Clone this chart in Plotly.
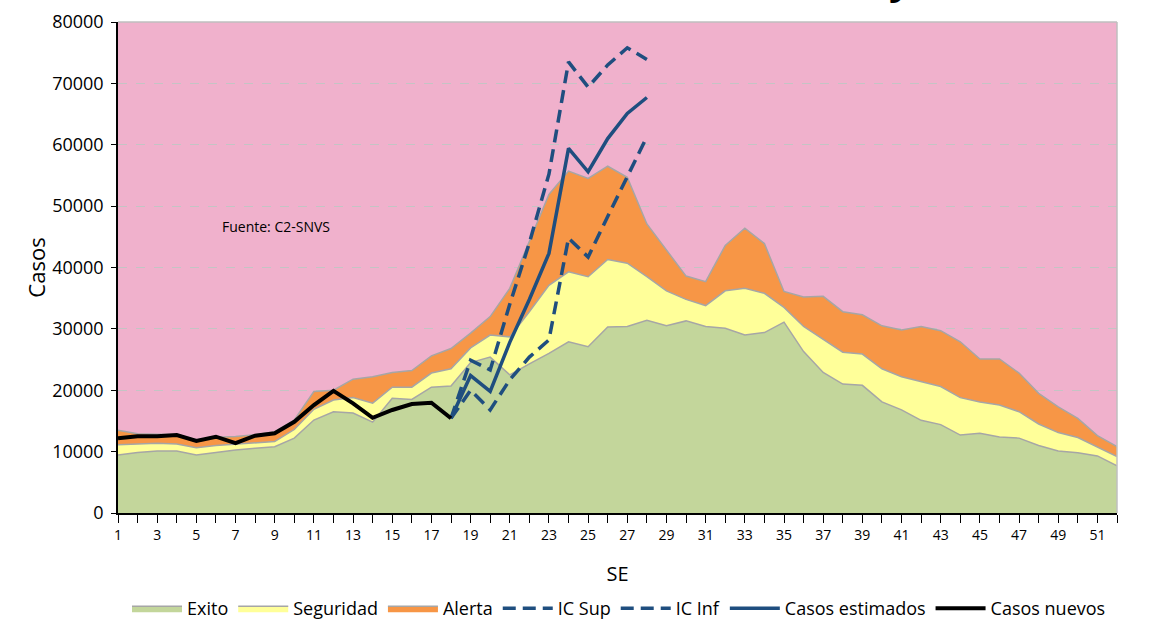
import plotly.graph_objects as go

weeks = list(range(1, 53))

exito = [9450, 9850, 10100, 10100, 9450, 9900, 10250, 10550, 10800, 12200,
         15150, 16500, 16300, 14800, 18700, 18500, 20500, 20700, 24500, 25400,
         22500, 24300, 26000, 27900, 27100, 30300, 30400, 31400, 30500, 31300,
         30400, 30100, 29000, 29400, 31100, 26300, 22900, 21000, 20800, 18100,
         16800, 15100, 14400, 12700, 13000, 12400, 12200, 11000, 10100, 9800,
         9300, 7700]

seguridad_top = [11100, 11250, 11350, 11250, 10650, 11000, 11250, 11450, 11650, 13600,
                 16900, 18400, 18800, 17900, 20500, 20500, 22800, 23500, 26900, 29000,
                 28700, 32800, 37100, 39300, 38500, 41300, 40700, 38500, 36200, 34800,
                 33800, 36200, 36600, 35800, 33500, 30400, 28300, 26200, 25900, 23500,
                 22200, 21400, 20600, 18800, 18100, 17600, 16500, 14500, 13100, 12300,
                 10800, 9200]

alerta_top = [13500, 12900, 12850, 12800, 11950, 12350, 12450, 12750, 13250, 15150,
              19800, 20000, 21800, 22200, 22900, 23200, 25600, 26800, 29300, 32000,
              36600, 44200, 51900, 55700, 54500, 56500, 54700, 47100, 42800, 38600,
              37700, 43600, 46400, 43900, 36100, 35200, 35300, 32800, 32300, 30500,
              29800, 30400, 29700, 27900, 25100, 25100, 22800, 19500, 17300, 15400,
              12600, 10800]

weeks_nuevos = list(range(1, 19))
casos_nuevos = [12170, 12500, 12500, 12700, 11750, 12430, 11400, 12600, 13000, 14870,
                17590, 19900, 17860, 15520, 16780, 17750, 17970, 15430]

weeks_est = list(range(18, 29))
casos_estimados = [15430, 22400, 19800, 27800, 34800, 42300, 59400, 55600, 61000, 65100, 67700]
ic_sup = [15430, 24900, 23300, 34000, 44000, 55200, 73500, 69400, 73000, 75800, 73900]
ic_inf = [15430, 20000, 16800, 21700, 25400, 28200, 44800, 41700, 48300, 54800, 61300]

x_ticks = list(range(1, 53, 2))
y_ticks = list(range(0, 80001, 10000))

PINK = "#F0B1CC"
GREEN = "#C3D69B"
YELLOW = "#FFFF99"
ORANGE = "#F79646"
BLUE = "#1F4E7F"
EDGE = "#A6A6A6"
FONT = "Open Sans, Noto Sans, DejaVu Sans, sans-serif"

fig = go.Figure()
fig.add_trace(go.Scatter(x=weeks, y=exito, name="Exito", mode="lines",
                         line=dict(color=EDGE, width=1.5), fill="tozeroy",
                         fillcolor=GREEN))
fig.add_trace(go.Scatter(x=weeks, y=seguridad_top, name="Seguridad", mode="lines",
                         line=dict(color=EDGE, width=1.5), fill="tonexty",
                         fillcolor=YELLOW))
fig.add_trace(go.Scatter(x=weeks, y=alerta_top, name="Alerta", mode="lines",
                         line=dict(color=EDGE, width=1.5), fill="tonexty",
                         fillcolor=ORANGE))
fig.add_trace(go.Scatter(x=weeks_est, y=ic_sup, name="IC Sup", mode="lines",
                         line=dict(color=BLUE, width=3.5, dash="13px,7px")))
fig.add_trace(go.Scatter(x=weeks_est, y=ic_inf, name="IC Inf", mode="lines",
                         line=dict(color=BLUE, width=3.5, dash="13px,7px")))
fig.add_trace(go.Scatter(x=weeks_est, y=casos_estimados, name="Casos estimados",
                         mode="lines", line=dict(color=BLUE, width=3.5)))
fig.add_trace(go.Scatter(x=weeks_nuevos, y=casos_nuevos, name="Casos nuevos",
                         mode="lines", line=dict(color="black", width=4)))

fig.update_layout(
    width=1152, height=623,
    margin=dict(l=118, r=35, t=22, b=110, autoexpand=False),
    paper_bgcolor="white",
    plot_bgcolor=PINK,
    font=dict(family=FONT, color="black"),
    showlegend=True,
    legend=dict(orientation="h", x=(619 - 118) / 999, xanchor="center", xref="paper",
                y=(623 - 590) / 623, yanchor="top", yref="container",
                font=dict(size=18, family=FONT), itemwidth=50,
                bgcolor="rgba(0,0,0,0)", traceorder="normal", tracegroupgap=0),
    xaxis=dict(range=[1, 52], tickvals=x_ticks, ticktext=[str(v) for v in x_ticks],
               ticks="outside", ticklen=8, tickwidth=1.2, tickcolor="black",
               showline=True, linecolor="black", linewidth=1.5,
               showgrid=False, zeroline=False, automargin=False,
               tickfont=dict(size=14),
               minor=dict(dtick=1, tick0=1, ticks="outside", ticklen=8,
                          tickwidth=1.2, tickcolor="black", showgrid=False),
               title=dict(text="SE", font=dict(size=20), standoff=24)),
    yaxis=dict(range=[0, 80000], tickvals=y_ticks, ticktext=[str(v) for v in y_ticks],
               ticks="outside", ticklen=5, tickcolor="black",
               showline=True, linecolor="black", linewidth=1.5,
               showgrid=True, gridcolor="#C4C4C4", griddash="dash", gridwidth=1,
               zeroline=False, automargin=False, tickfont=dict(size=18),
               ticklabelstandoff=4,
               title=dict(text="Casos", font=dict(size=22), standoff=0)),
    annotations=[
        dict(text="Fuente: C2-SNVS", x=6.2, y=46600, xref="x", yref="y",
             xanchor="left", yanchor="middle", showarrow=False,
             font=dict(size=14, family=FONT)),
        dict(text="<b>y</b>", x=(900 - 118) / 999, y=1, xref="paper", yref="paper",
             xanchor="center", yanchor="bottom", yshift=14, showarrow=False,
             font=dict(size=40, family=FONT)),
    ],
    shapes=[
        dict(type="line", xref="paper", yref="paper", x0=0, x1=1, y0=1, y1=1,
             line=dict(color="#BFBFBF", width=1.5)),
        dict(type="line", xref="paper", yref="paper", x0=1, x1=1, y0=0, y1=1,
             line=dict(color="#BFBFBF", width=1.5)),
    ],
)

fig.write_html("out.html", config={"displayModeBar": False},
               post_script="document.body.style.margin='0';document.body.style.overflow='hidden';")
